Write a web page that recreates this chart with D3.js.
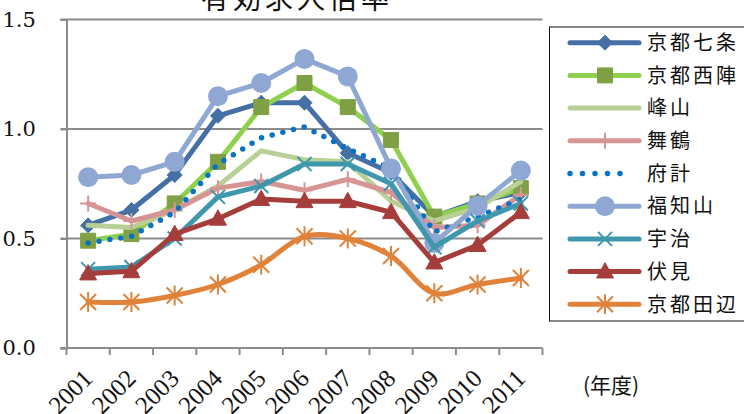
<!DOCTYPE html>
<html>
<head>
<meta charset="utf-8">
<script src="https://cdn.jsdelivr.net/npm/d3@7"></script>
<style>
  html, body { margin: 0; padding: 0; background: #fff; }
  svg { display: block; }
</style>
</head>
<body>
<svg id="chart" width="744" height="414"></svg>
<script>
// 有効求人倍率 (ハローワーク別, 年度)
const years = ["2001","2002","2003","2004","2005","2006","2007","2008","2009","2010","2011"];
const seriesNames = ["京都七条","京都西陣","峰山","舞鶴","府計","福知山","宇治","伏見","京都田辺"];

const kyotoShichijo = [0.56,0.63,0.79,1.06,1.12,1.12,0.89,0.80,0.60,0.67,0.71];
const kyotoNishijin = [0.49,0.52,0.66,0.85,1.10,1.21,1.10,0.95,0.60,0.66,0.73];
const mineyama      = [0.56,0.55,0.63,0.74,0.90,0.86,0.85,0.67,0.58,0.64,0.76];
const maizuru       = [0.66,0.58,0.63,0.73,0.76,0.72,0.77,0.71,0.55,0.56,0.70];
const fukei         = [0.48,0.51,0.62,0.84,0.96,1.01,0.91,0.82,0.53,0.60,0.68];
const fukuchiyama   = [0.78,0.79,0.85,1.15,1.21,1.32,1.24,0.82,0.48,0.65,0.81];
const uji           = [0.36,0.37,0.50,0.69,0.74,0.84,0.84,0.75,0.46,0.58,0.66];
const fushimi       = [0.34,0.35,0.52,0.59,0.68,0.67,0.67,0.62,0.39,0.47,0.62];
const kyotoTanabe   = [0.21,0.21,0.24,0.29,0.38,0.51,0.50,0.42,0.25,0.29,0.32];

const yTicks = [0.0, 0.5, 1.0, 1.5];

const seriesValues = [kyotoShichijo, kyotoNishijin, mineyama, maizuru, fukei,
                      fukuchiyama, uji, fushimi, kyotoTanabe];

// visual style per series
const styles = [
  { line: "#4570a6", mark: "#4570a6", marker: "diamond" },
  { line: "#8fd14f", mark: "#7fa044", marker: "square" },
  { line: "#b8cf95", mark: "#b8cf95", marker: "none" },
  { line: "#d69594", mark: "#d69594", marker: "plus" },
  { line: "#0a72c4", mark: "#0a72c4", marker: "none", dotted: true },
  { line: "#8fa8d3", mark: "#8fa8d3", marker: "circle" },
  { line: "#3f97ad", mark: "#3f97ad", marker: "x" },
  { line: "#a53e3b", mark: "#a53e3b", marker: "triangle" },
  { line: "#e0823a", mark: "#e0823a", marker: "asterisk", smooth: true }
];

const series = seriesNames.map((name, i) => ({ name, values: seriesValues[i], style: styles[i] }));

const svg = d3.select("#chart");
const plot = { left: 66.5, right: 542.5, top: 19.5, bottom: 348 };

const x = d3.scaleBand().domain(years).range([plot.left, plot.right]).paddingInner(0).paddingOuter(0);
const y = d3.scaleLinear().domain([0, 1.5]).range([plot.bottom, plot.top]);
const cx = d => x(d) + x.bandwidth() / 2;

const gridColor = "#8c8c8c";
const numFont = "'DejaVu Serif', 'Liberation Serif', serif";
const yearFont = "'Liberation Serif', 'DejaVu Serif', serif";
const cjkFont = "'Noto Sans CJK JP', 'Noto Sans CJK SC', sans-serif";

// title (its upper part sits above the top edge)
svg.append("text")
  .attr("x", 297).attr("y", 9)
  .attr("text-anchor", "middle")
  .attr("font-family", cjkFont)
  .attr("font-size", 28)
  .attr("letter-spacing", 4)
  .attr("fill", "#111")
  .text("有効求人倍率");

// horizontal gridlines
svg.append("g")
  .selectAll("line")
  .data(yTicks.filter(t => t > 0))
  .join("line")
  .attr("x1", plot.left - 6).attr("x2", plot.right)
  .attr("y1", d => y(d)).attr("y2", d => y(d))
  .attr("stroke", gridColor).attr("stroke-width", 2);

// y axis
const yAxis = d3.axisLeft(y).tickValues(yTicks).tickFormat(d3.format(".1f")).tickSize(6).tickPadding(22);
const gy = svg.append("g").attr("transform", `translate(${plot.left},0)`).call(yAxis);
gy.select(".domain").attr("stroke", gridColor).attr("stroke-width", 2);
gy.selectAll(".tick line").attr("stroke", gridColor).attr("stroke-width", 2);
gy.selectAll(".tick text")
  .attr("font-family", numFont).attr("font-size", 21).attr("fill", "#111")
  .attr("text-anchor", "start").attr("x", -64);

// x axis
const xAxis = d3.axisBottom(x).tickSize(0).tickSizeOuter(0);
const gx = svg.append("g").attr("transform", `translate(0,${plot.bottom})`).call(xAxis);
gx.select(".domain").attr("stroke", gridColor).attr("stroke-width", 2)
  .attr("d", `M${plot.left - 6},0H${plot.right}`);
// category boundary ticks
svg.append("g").selectAll("line")
  .data(d3.range(years.length + 1))
  .join("line")
  .attr("x1", i => plot.left + i * x.bandwidth())
  .attr("x2", i => plot.left + i * x.bandwidth())
  .attr("y1", plot.bottom).attr("y2", plot.bottom + 7)
  .attr("stroke", gridColor).attr("stroke-width", 2);
gx.selectAll(".tick text")
  .attr("font-family", yearFont).attr("font-size", 25).attr("fill", "#111")
  .attr("text-anchor", "end").attr("dy", 0).attr("y", 0)
  .attr("transform", "translate(6,32) rotate(-45)");

// unit label
svg.append("text")
  .attr("x", 583).attr("y", 393)
  .attr("font-family", cjkFont).attr("font-size", 21)
  .attr("fill", "#111")
  .text("(年度)");

// marker path generator (size = full width in px)
function markerPath(type, s) {
  const h = s / 2;
  switch (type) {
    case "diamond": return `M0,${-h}L${h},0L0,${h}L${-h},0Z`;
    case "square": return `M${-h},${-h}H${h}V${h}H${-h}Z`;
    case "triangle": return `M0,${-h * 1.05}L${h},${h * 0.75}L${-h},${h * 0.75}Z`;
    case "x": return `M${-h},${-h}L${h},${h}M${-h},${h}L${h},${-h}`;
    case "plus": return `M0,${-h}V${h}M${-h},0H${h}`;
    case "asterisk": return `M${-h},${-h}L${h},${h}M${-h},${h}L${h},${-h}M0,${-h * 1.25}V${h * 1.25}`;
    default: return "";
  }
}

function drawMarker(g, type, color, px, py) {
  if (type === "none") return;
  if (type === "circle") {
    g.append("circle").attr("cx", px).attr("cy", py).attr("r", 10).attr("fill", color);
    return;
  }
  const sizes = { diamond: 15, square: 15, triangle: 17, x: 14, plus: 16, asterisk: 16 };
  const stroked = type === "x" || type === "plus" || type === "asterisk";
  g.append("path")
    .attr("transform", `translate(${px},${py})`)
    .attr("d", markerPath(type, sizes[type]))
    .attr("fill", stroked ? "none" : color)
    .attr("stroke", color)
    .attr("stroke-width", stroked ? 2 : 1);
}

// series lines and markers, in series order
const lineStraight = d3.line().x(d => cx(d.year)).y(d => y(d.value));
const lineSmooth = d3.line().x(d => cx(d.year)).y(d => y(d.value)).curve(d3.curveCatmullRom.alpha(0.5));

const gSeries = svg.append("g");
series.forEach(s => {
  const pts = years.map((yr, i) => ({ year: yr, value: s.values[i] }));
  const g = gSeries.append("g");
  const path = g.append("path")
    .datum(pts)
    .attr("d", s.style.smooth ? lineSmooth : lineStraight)
    .attr("fill", "none")
    .attr("stroke", s.style.line)
    .attr("stroke-linejoin", "round")
    .attr("stroke-linecap", "round");
  if (s.style.dotted) {
    path.attr("stroke-width", 5.5).attr("stroke-dasharray", "0 11");
  } else {
    path.attr("stroke-width", 5);
  }
  pts.forEach(p => drawMarker(g, s.style.marker, s.style.mark, cx(p.year), y(p.value)));
});

// legend
const legend = svg.append("g");
legend.append("rect")
  .attr("x", 549.5).attr("y", 27).attr("width", 240).attr("height", 294)
  .attr("fill", "#fff").attr("stroke", "#111").attr("stroke-width", 1);
const legendY0 = 42.7, legendStep = 32.7;
series.forEach((s, i) => {
  const ly = legendY0 + i * legendStep;
  const g = legend.append("g");
  const ln = g.append("line")
    .attr("x1", 570).attr("x2", 639).attr("y1", ly).attr("y2", ly)
    .attr("stroke", s.style.line).attr("stroke-linecap", "round");
  if (s.style.dotted) ln.attr("stroke-width", 5.5).attr("stroke-dasharray", "0 12.5").attr("x1", 570).attr("x2", 632);
  else ln.attr("stroke-width", 5);
  drawMarker(g, s.style.marker, s.style.mark, 605, ly);
  g.append("text")
    .attr("x", 647).attr("y", ly)
    .attr("dy", "0.36em")
    .attr("font-family", cjkFont).attr("font-size", 20)
    .attr("letter-spacing", 3)
    .attr("fill", "#111")
    .text(s.name);
});
</script>
</body>
</html>
